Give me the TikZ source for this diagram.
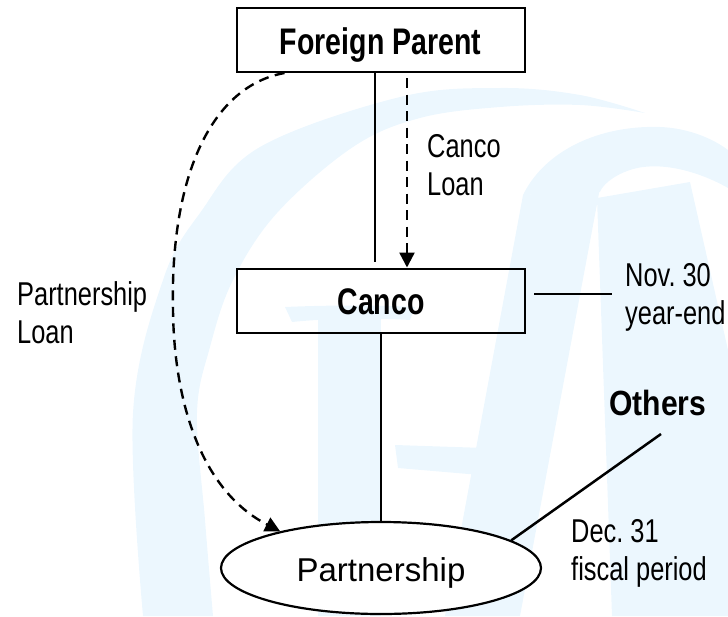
\documentclass[tikz,border=0pt]{standalone}
\usepackage{fontspec}
\setmainfont{Liberation Sans}[FakeStretch=0.77]
\newfontfamily\widesans{Liberation Sans}
\newfontfamily\midsans{Liberation Sans}[FakeStretch=0.86]
\usetikzlibrary{arrows.meta,shapes.geometric}
\definecolor{wmblue}{RGB}{236,247,254}
\frenchspacing
\begin{document}
\begin{tikzpicture}[x=1pt,y=-1pt,
  wm/.style={fill=wmblue,draw=none},
  entity/.style={draw,line width=2pt,rectangle,minimum width=288pt,minimum height=64pt,
    inner sep=0pt,font=\fontsize{37}{42}\selectfont\bfseries,text height=28pt,text depth=0pt},
  pship/.style={draw,fill=white,line width=2.2pt,ellipse,minimum width=320pt,minimum height=92pt,
    inner sep=0pt,font=\widesans\fontsize{33}{40}\selectfont,text height=27.4pt,text depth=0pt},
  lbl/.style={font=\fontsize{33}{38}\selectfont,align=left,inner sep=0pt,anchor=north west},
  tie/.style={line width=2.5pt},
  loan/.style={line width=2.4pt,dash pattern=on 10pt off 6.5pt,-{Triangle[width=15pt,length=15pt]}}
]
\useasboundingbox (0,0) rectangle (728,616);

% faint logo in the background
\fill[wm] plot[smooth,tension=0.6] coordinates {(143,616) (133,413) (163,280) (200,213) (260,147) (400,97) (500,88) (580,95) (645,113)}
  -- plot[smooth,tension=0.6] coordinates {(645,113) (580,105) (500,107) (420,118) (353,147) (277,213) (233,280) (210,347) (197,413) (205,520) (213,616)}
  -- cycle;
\fill[wm] (318,318) rectangle (381,616);
\fill[wm] (285,307) .. controls (330,305) and (380,305) .. (415,307) -- (410,320) .. controls (380,318) and (330,318) .. (292,322) -- cycle;
\fill[wm] (445,616) -- (523,195) -- (600,188) -- (520,616) -- cycle;
\fill[wm] (523,195) .. controls (545,150) and (600,125) .. (660,127) .. controls (690,128) and (715,140) .. (728,150)
  -- (728,188) .. controls (700,172) and (660,160) .. (630,170) .. controls (612,176) and (602,186) .. (600,192) -- cycle;
\fill[wm] (597,198) -- (690,182) -- (728,350) -- (728,616) -- (612,616) -- cycle;
\fill[wm] (395,445) -- (485,448) -- (480,475) -- (398,468) -- cycle;

% entities
\node[entity] (fp) at (380.5,40) {Foreign Parent};
\node[entity] (cc) at (381,300.5) {Canco};
\node[pship] (ps) at (381,568) {Partnership};
\node[font=\midsans\fontsize{35}{40}\selectfont\bfseries,inner sep=0pt,anchor=base west] (oth) at (609,415) {Others};

% labels
\node[lbl] (ccloan) at (427,134) {Canco\\Loan};
\node[lbl] (psloan) at (17,281) {Partnership\\Loan};
\node[lbl] (nov) at (625,263) {Nov. 30\\year-end};
\node[lbl] (dec) at (571,519) {Dec. 31\\fiscal period};

\coordinate (novtick) at (612,294);
\coordinate (othtick) at (661,434);

% ownership lines
\draw[tie,shorten >=6pt] ([xshift=-5.5pt]fp.south) -- ([xshift=-6pt]cc.north);
\draw[tie] (cc.south) -- (ps.north);
\draw[tie] ([xshift=8pt,yshift=6.5pt]cc.east) -- (novtick);
\draw[tie] (othtick) -- (ps.12);

% loans
\draw[loan,shorten <=5pt] ([xshift=26.5pt]fp.south) -- ([xshift=26pt]cc.north);
\draw[loan] ([xshift=49pt]fp.south west) .. controls (212,86) and (170,175) .. (173,310)
  .. controls (174,400) and (200,490) .. (ps.160);
\end{tikzpicture}
\end{document}
